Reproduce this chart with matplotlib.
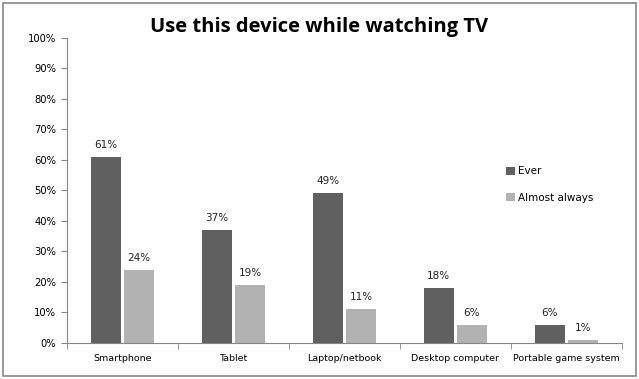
import matplotlib
matplotlib.use("Agg")
import matplotlib.pyplot as plt
import numpy as np
from matplotlib.patches import Rectangle

categories = ["Smartphone", "Tablet", "Laptop/netbook", "Desktop computer", "Portable game system"]
ever = [61, 37, 49, 18, 6]
almost_always = [24, 19, 11, 6, 1]
yticks = list(range(0, 101, 10))

fig = plt.figure(figsize=(6.39, 3.79), dpi=100)
ax = fig.add_axes([0.105, 0.095, 0.868, 0.805])

x = np.arange(len(categories))
w = 0.27
off = 0.15
c_dark = "#606060"
c_light = "#b2b2b2"
b1 = ax.bar(x - off, ever, w, color=c_dark, label="Ever")
b2 = ax.bar(x + off, almost_always, w, color=c_light, label="Almost always")

for bars, vals in ((b1, ever), (b2, almost_always)):
    for b, v in zip(bars, vals):
        ax.text(b.get_x() + b.get_width() / 2, v + 2.3, f"{v}%", ha="center", va="bottom",
                fontsize=7.5, color="#222222")

ax.set_xlim(-0.5, len(categories) - 0.5)
ax.set_ylim(0, 100)
ax.set_yticks(yticks)
ax.set_yticklabels([f"{t}%" for t in yticks], fontsize=7.2)
ax.set_xticks(x)
ax.set_xticklabels(categories, fontsize=6.8)
ax.tick_params(axis="x", length=0, pad=8)
ax.set_xticks(np.arange(-0.5, len(categories), 1), minor=True)
ax.tick_params(axis="x", which="minor", length=4, color="#868686")
ax.tick_params(axis="y", length=4, color="#868686", pad=4)
for s in ("top", "right"):
    ax.spines[s].set_visible(False)
for s in ("left", "bottom"):
    ax.spines[s].set_color("#868686")

leg = ax.legend(loc="upper left", bbox_to_anchor=(0.775, 0.61), frameon=False, fontsize=7.5,
                handlelength=0.8, handleheight=0.8, handletextpad=0.3, labelspacing=1.6)

fig.text(0.5, 0.929, "Use this device while watching TV", ha="center", va="center",
         fontsize=14.5, fontweight="bold", family="Open Sans")

fig.patches.append(Rectangle((0.005, 0.008), 0.99, 0.985, transform=fig.transFigure,
                             fill=False, edgecolor="#868686", linewidth=1.2))

fig.savefig("out.png", dpi=100)
